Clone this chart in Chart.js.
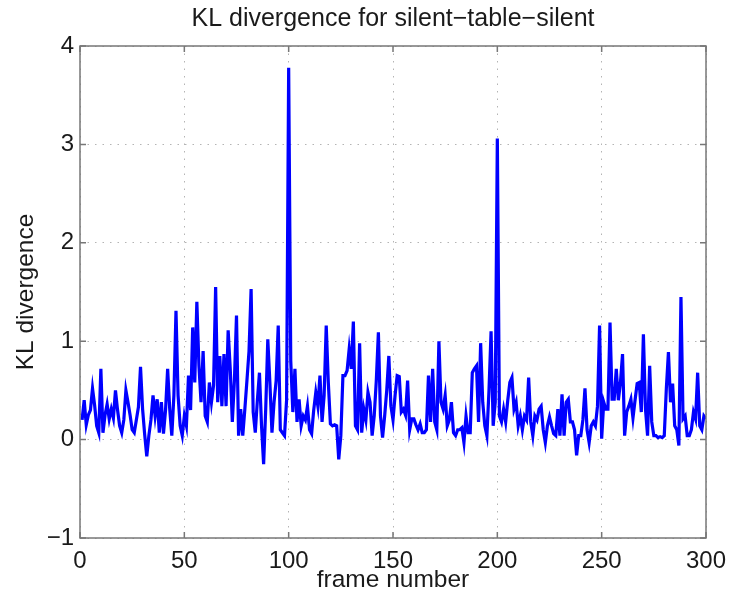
<!DOCTYPE html>
<html>
<head>
<meta charset="utf-8">
<title>KL divergence</title>
<script src="https://cdn.jsdelivr.net/npm/chart.js@4.4.0/dist/chart.umd.min.js"></script>
<style>
  html, body { margin: 0; padding: 0; background: #fff; }
  canvas { display: block; }
</style>
</head>
<body>
<canvas id="klChart" width="731" height="602"></canvas>
<script>
const chartTitle = "KL divergence for silent\u2212table\u2212silent";
const xLabel = "frame number";
const yLabel = "KL divergence";

const xTicks = [0, 50, 100, 150, 200, 250, 300];
const yTicks = [-1, 0, 1, 2, 3, 4];

// KL divergence per frame, frames 1..300
const klValues = [
  0.20, 0.40, 0.15, 0.25, 0.30, 0.52, 0.35, 0.14, 0.07, 0.72,
  0.07, 0.25, 0.36, 0.21, 0.31, 0.22, 0.50, 0.30, 0.14, 0.07,
  0.20, 0.50, 0.38, 0.25, 0.10, 0.07, 0.20, 0.33, 0.74, 0.31,
  0.05, -0.17, 0.04, 0.20, 0.45, 0.24, 0.41, 0.07, 0.38, 0.06,
  0.30, 0.72, 0.31, 0.04, 0.45, 1.31, 0.45, 0.14, 0.04, 0.24,
  0.14, 0.65, 0.30, 1.14, 0.58, 1.40, 0.75, 0.38, 0.90, 0.24,
  0.18, 0.58, 0.38, 0.55, 1.55, 0.38, 0.85, 0.34, 0.87, 0.34,
  1.11, 0.72, 0.18, 0.60, 1.26, 0.04, 0.31, 0.04, 0.31, 0.60,
  0.90, 1.53, 0.28, 0.07, 0.40, 0.68, 0.14, -0.25, 0.31, 1.02,
  0.58, 0.07, 0.38, 0.60, 1.16, 0.10, 0.07, 0.04, 0.40, 3.78,
  0.80, 0.28, 0.72, 0.18, 0.41, 0.14, 0.24, 0.20, 0.34, 0.10,
  0.06, 0.30, 0.48, 0.34, 0.65, 0.18, 0.45, 1.16, 0.58, 0.16,
  0.14, 0.15, 0.14, -0.20, 0.04, 0.65, 0.65, 0.70, 0.92, 0.72,
  1.20, 0.14, 0.10, 0.98, 0.07, 0.31, 0.20, 0.48, 0.38, 0.04,
  0.24, 0.60, 1.09, 0.24, 0.02, 0.24, 0.50, 0.85, 0.34, 0.20,
  0.45, 0.65, 0.64, 0.28, 0.31, 0.25, 0.60, 0.10, 0.21, 0.21,
  0.15, 0.10, 0.16, 0.07, 0.07, 0.10, 0.65, 0.18, 0.72, 0.18,
  0.10, 1.00, 0.38, 0.31, 0.45, 0.14, 0.20, 0.38, 0.07, 0.04,
  0.10, 0.10, 0.12, -0.03, 0.24, 0.07, 0.07, 0.68, 0.72, 0.75,
  0.18, 0.98, 0.38, 0.14, 0.04, 0.50, 1.10, 0.14, 0.38, 3.06,
  0.24, 0.18, 0.31, 0.18, 0.40, 0.58, 0.63, 0.31, 0.38, 0.14,
  0.24, 0.10, 0.24, 0.20, 0.63, 0.18, 0.04, 0.24, 0.20, 0.31,
  0.34, 0.10, -0.03, 0.14, 0.23, 0.14, 0.06, 0.04, 0.31, 0.04,
  0.46, 0.04, 0.38, 0.41, 0.18, 0.18, 0.10, -0.16, 0.04, 0.04,
  0.20, 0.52, 0.10, -0.03, 0.14, 0.18, 0.14, 0.34, 1.16, 0.01,
  0.38, 0.31, 0.31, 1.19, 0.41, 0.41, 0.72, 0.40, 0.58, 0.87,
  0.04, 0.28, 0.34, 0.41, 0.22, 0.40, 0.57, 0.58, 0.28, 1.07,
  0.31, 0.04, 0.75, 0.18, 0.04, 0.04, 0.02, 0.03, 0.02, 0.04,
  0.52, 0.89, 0.38, 0.57, 0.14, 0.10, -0.06, 1.45, 0.21, 0.24,
  0.04, 0.04, 0.10, 0.28, 0.21, 0.68, 0.14, 0.10, 0.24, 0.21,
];

const axisColor = "#777";
const gridColor = "#b4b4b4";
const textColor = "#1a1a1a";
const fontFamily = '"Liberation Sans", Arial, Helvetica, sans-serif';
const tickLen = 6;

Chart.defaults.font.family = fontFamily;
Chart.defaults.font.size = 24;
Chart.defaults.color = textColor;

// matlab style frame: full box, ticks pointing inwards, title centred over the axes
const boxTicks = {
  id: "boxTicks",
  afterDatasetsDraw(chart) {
    const { ctx, chartArea: area, scales } = chart;
    ctx.save();
    ctx.strokeStyle = axisColor;
    ctx.lineWidth = 1.5;
    ctx.strokeRect(area.left, area.top, area.right - area.left, area.bottom - area.top);
    ctx.beginPath();
    xTicks.forEach((t) => {
      const px = scales.x.getPixelForValue(t);
      ctx.moveTo(px, area.bottom);
      ctx.lineTo(px, area.bottom - tickLen);
      ctx.moveTo(px, area.top);
      ctx.lineTo(px, area.top + tickLen);
    });
    yTicks.forEach((t) => {
      const py = scales.y.getPixelForValue(t);
      ctx.moveTo(area.left, py);
      ctx.lineTo(area.left + tickLen, py);
      ctx.moveTo(area.right, py);
      ctx.lineTo(area.right - tickLen, py);
    });
    ctx.stroke();

    ctx.fillStyle = textColor;
    ctx.font = "25px " + fontFamily;
    ctx.textAlign = "center";
    ctx.textBaseline = "middle";
    ctx.fillText(chartTitle, (area.left + area.right) / 2, 19);
    ctx.restore();
  },
};

const minusSign = (v) => String(v).replace("-", "\u2212");

const ctx = document.getElementById("klChart").getContext("2d");

new Chart(ctx, {
  type: "line",
  data: {
    datasets: [
      {
        label: yLabel,
        data: klValues.map((v, i) => ({ x: i + 1, y: v })),
        borderColor: "#0000ff",
        backgroundColor: "#0000ff",
        borderWidth: 3.2,
        pointRadius: 0,
        tension: 0,
        fill: false,
      },
    ],
  },
  options: {
    responsive: false,
    animation: false,
    events: [],
    layout: {
      padding: { left: 0, right: 25, top: 46, bottom: 0 },
    },
    plugins: {
      legend: { display: false },
      tooltip: { enabled: false },
      title: { display: false },
    },
    scales: {
      x: {
        type: "linear",
        min: 0,
        max: 300,
        afterBuildTicks: (scale) => {
          scale.ticks = xTicks.map((v) => ({ value: v }));
        },
        afterFit: (scale) => {
          scale.height = 64;
          scale.paddingLeft = 0;
          scale.paddingRight = 0;
        },
        ticks: {
          padding: 9,
          maxRotation: 0,
          color: textColor,
          callback: minusSign,
        },
        grid: {
          color: gridColor,
          lineWidth: 1,
          drawTicks: false,
        },
        border: { display: false, dash: [1.5, 6] },
        title: {
          display: true,
          text: xLabel,
          color: textColor,
          font: { size: 24.5 },
          padding: { top: 0, bottom: 7 },
        },
      },
      y: {
        min: -1,
        max: 4,
        afterBuildTicks: (scale) => {
          scale.ticks = yTicks.map((v) => ({ value: v }));
        },
        afterFit: (scale) => {
          scale.width = 80;
          scale.paddingTop = 0;
          scale.paddingBottom = 0;
        },
        ticks: {
          padding: 6,
          color: textColor,
          callback: minusSign,
        },
        grid: {
          color: gridColor,
          lineWidth: 1,
          drawTicks: false,
        },
        border: { display: false, dash: [1.5, 6] },
        title: {
          display: true,
          text: yLabel,
          color: textColor,
          font: { size: 24.5 },
          padding: { top: 12, bottom: 0 },
        },
      },
    },
  },
  plugins: [boxTicks],
});
</script>
</body>
</html>
